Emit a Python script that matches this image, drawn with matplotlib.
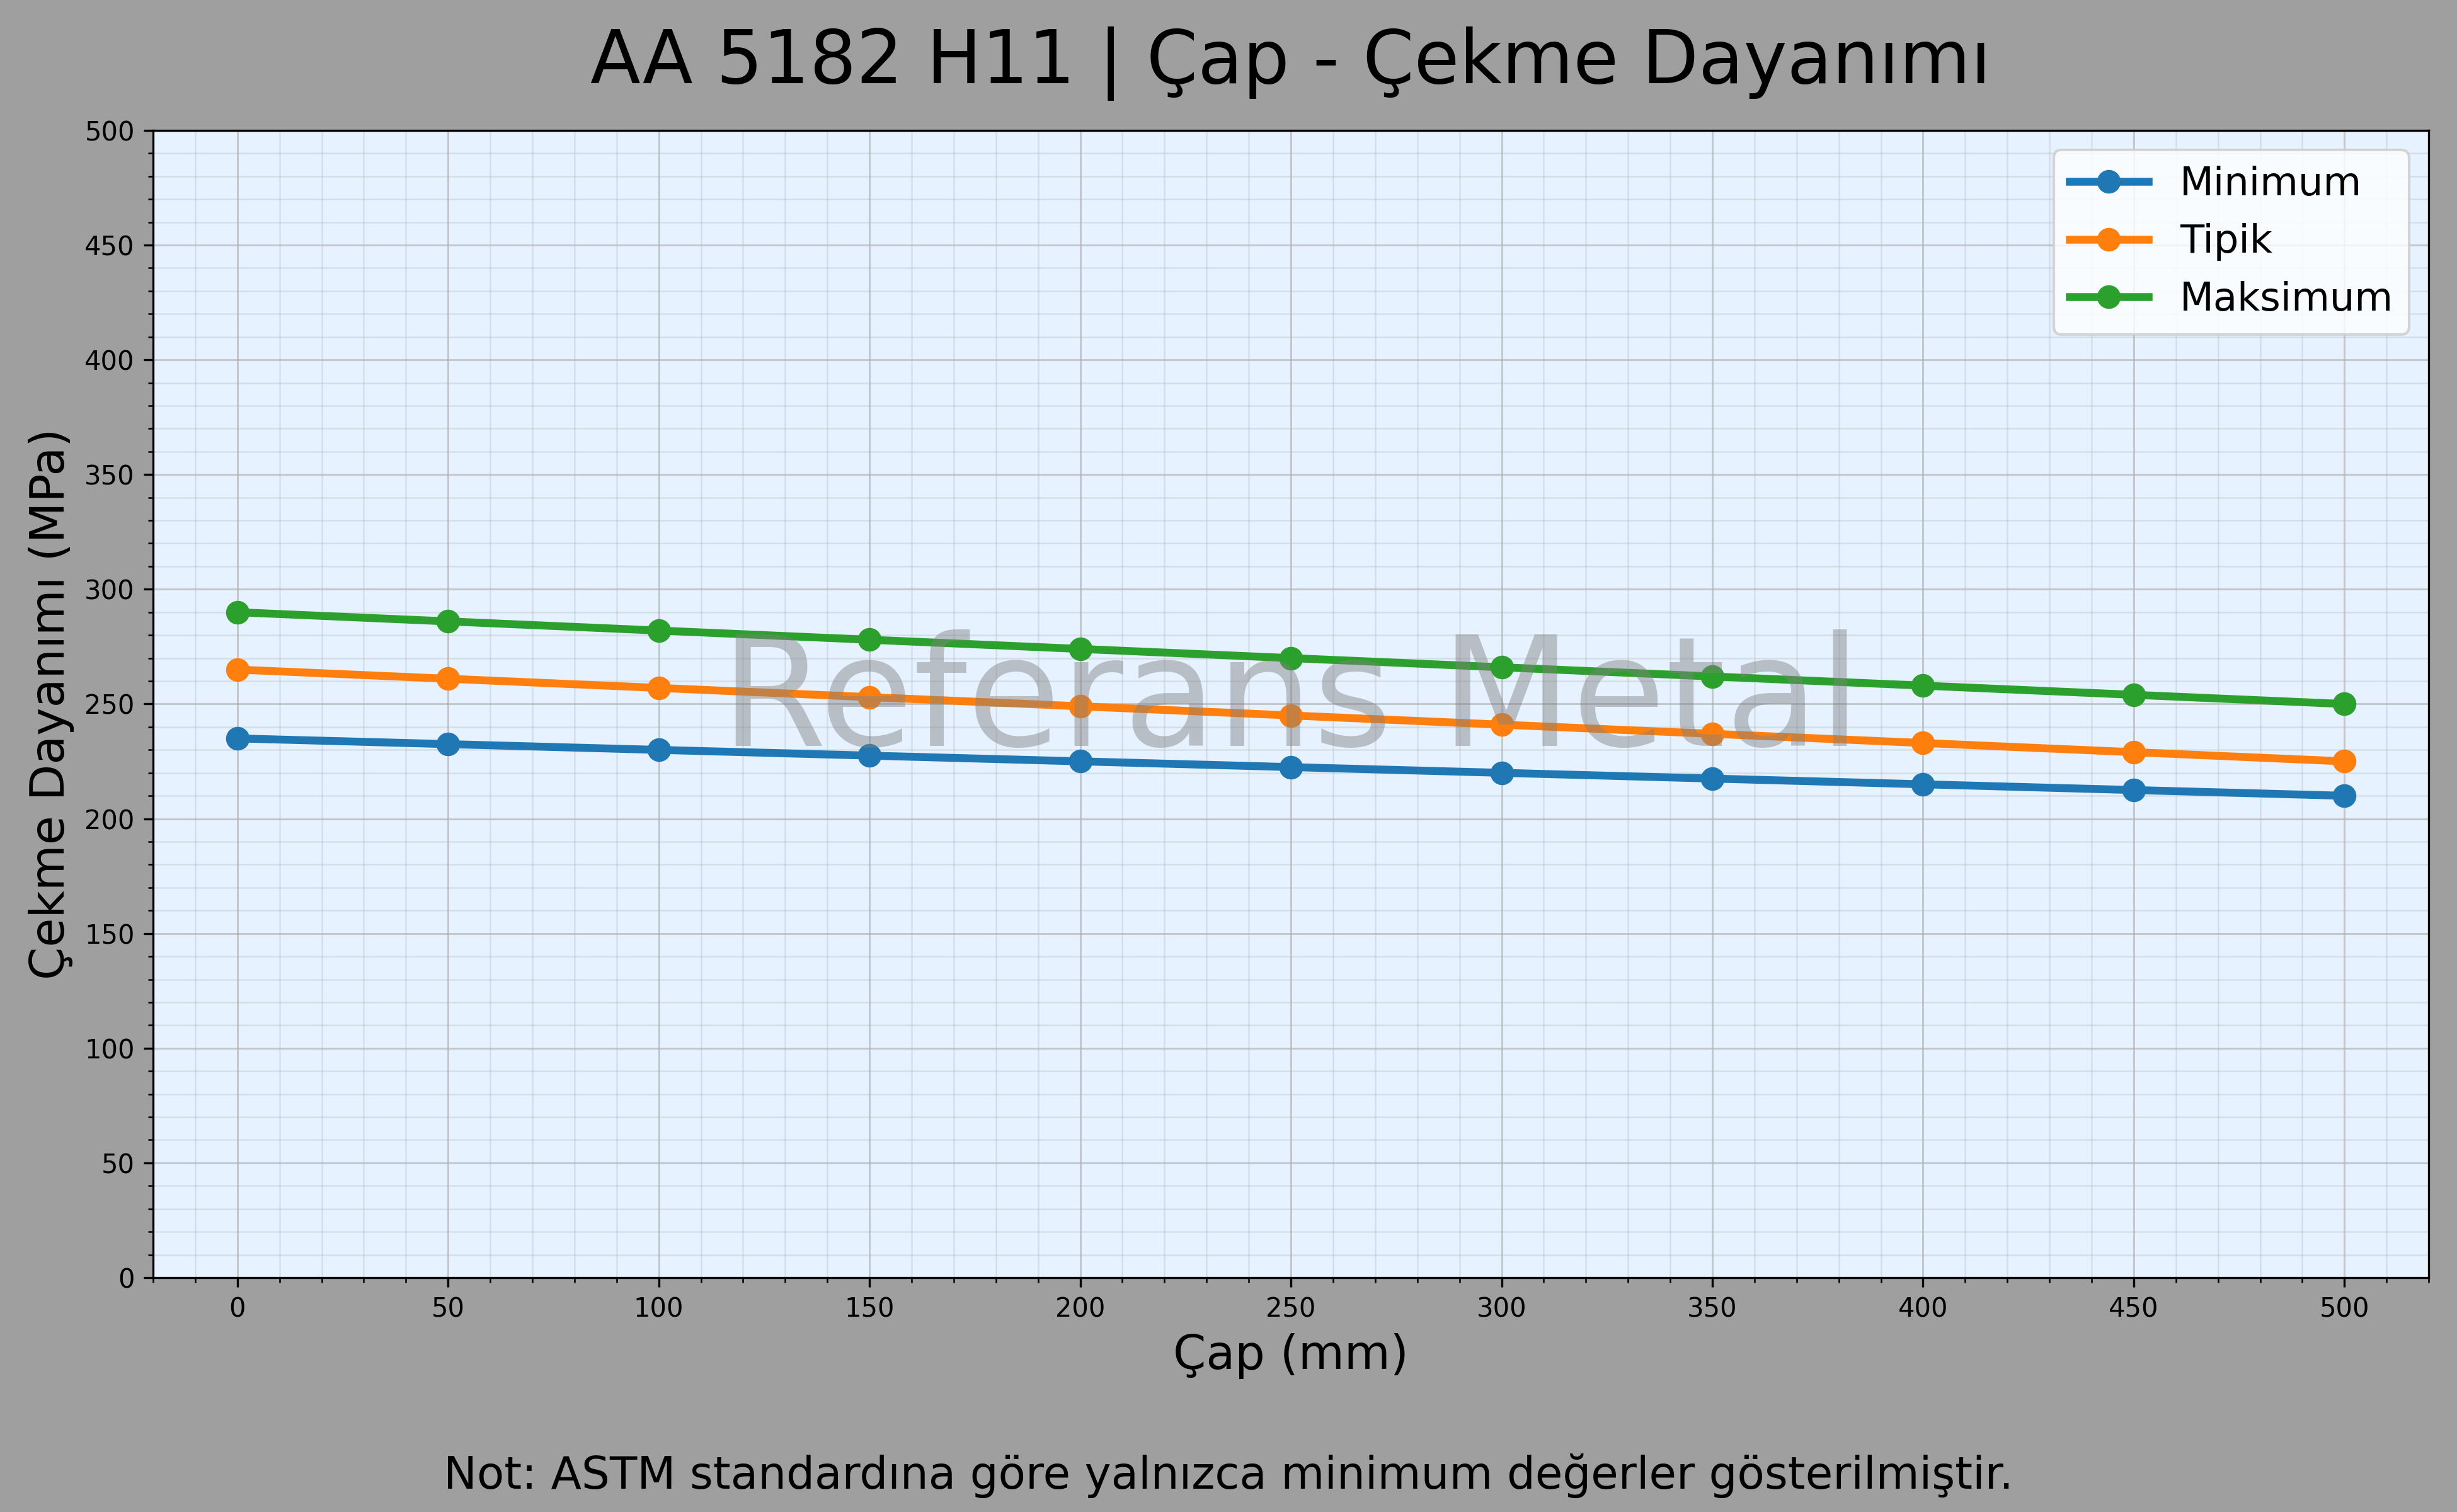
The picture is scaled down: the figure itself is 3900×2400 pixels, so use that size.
import matplotlib
matplotlib.use('Agg')
import matplotlib.pyplot as plt
from matplotlib.ticker import MultipleLocator

# diameter (mm) and tensile strength (MPa)
cap = [0, 50, 100, 150, 200, 250, 300, 350, 400, 450, 500]
minimum = [235, 232.5, 230, 227.5, 225, 222.5, 220, 217.5, 215, 212.5, 210]
tipik = [265, 261, 257, 253, 249, 245, 241, 237, 233, 229, 225]
maksimum = [290, 286, 282, 278, 274, 270, 266, 262, 258, 254, 250]

series = [('Minimum', minimum, '#1f77b4'),
          ('Tipik', tipik, '#ff7f0e'),
          ('Maksimum', maksimum, '#2ca02c')]

fig = plt.figure(figsize=(13, 8), dpi=300, facecolor='#9f9f9f')
fig.subplots_adjust(left=0.0623, right=0.9885, bottom=0.155, top=0.9138)
ax = fig.add_subplot(111)
ax.set_facecolor('#e6f2ff')

for name, vals, col in series:
    ax.plot(cap, vals, marker='o', markersize=8, linewidth=3, color=col, label=name)

ax.set_xlim(-20, 520)
ax.set_ylim(0, 500)
ax.xaxis.set_major_locator(MultipleLocator(50))
ax.yaxis.set_major_locator(MultipleLocator(50))
ax.xaxis.set_minor_locator(MultipleLocator(10))
ax.yaxis.set_minor_locator(MultipleLocator(10))

ax.grid(True, which='major', color='#b0b0b0', alpha=0.65, linewidth=0.7)
ax.grid(True, which='minor', color='#b0b0b0', alpha=0.3, linewidth=0.6)
ax.set_axisbelow(True)

ax.set_title('AA 5182 H11 | Çap - Çekme Dayanımı', fontsize=28, pad=18)
ax.set_xlabel('Çap (mm)', fontsize=18)
ax.set_ylabel('Çekme Dayanımı (MPa)', fontsize=18)

ax.legend(loc='upper right', fontsize=15)

# watermark
ax.text(0.5, 0.5, 'Referans Metal', transform=ax.transAxes, fontsize=58,
        color='gray', alpha=0.45, ha='center', va='center', zorder=10)

fig.text(0.5, 0.0154, 'Not: ASTM standardına göre yalnızca minimum değerler gösterilmiştir.',
         ha='center', va='baseline', fontsize=17)

plt.savefig('out.png', dpi=300, facecolor=fig.get_facecolor())
plt.close()
